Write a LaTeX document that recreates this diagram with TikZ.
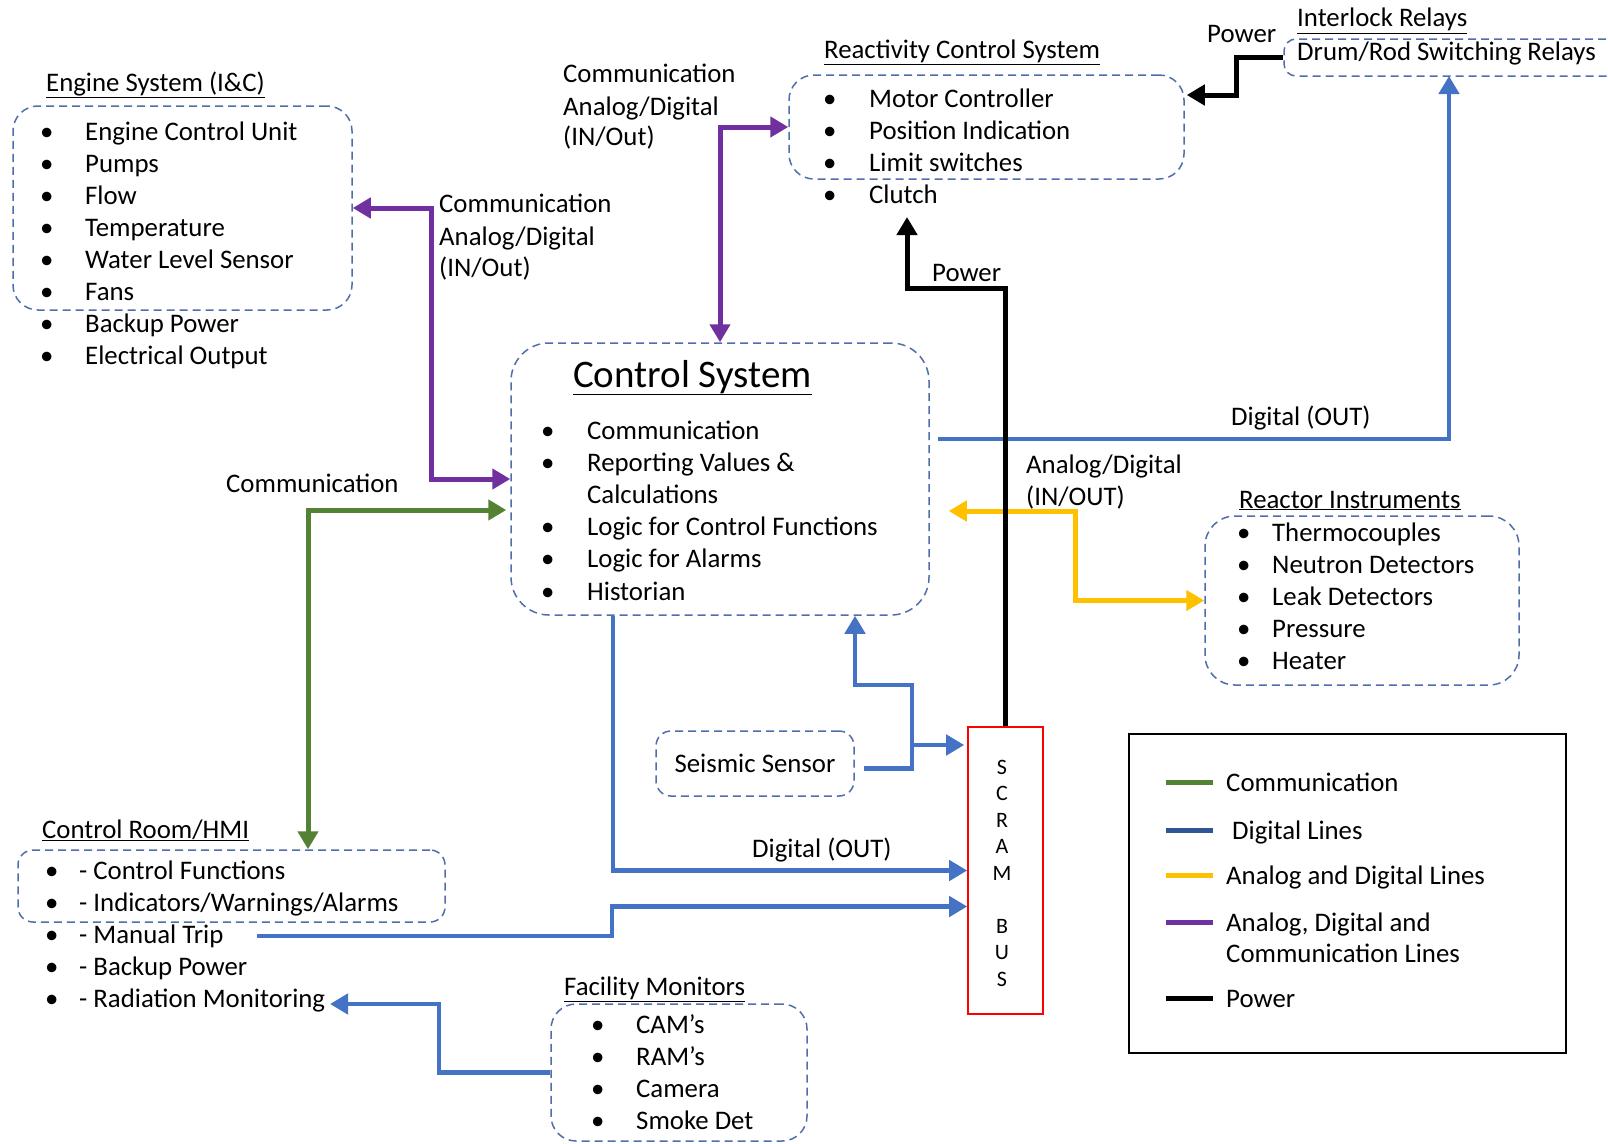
\documentclass[tikz,border=0pt]{standalone}
\usepackage{fontspec}
\setmainfont{Carlito}
\usetikzlibrary{arrows.meta,calc}
\definecolor{cgreen}{RGB}{84,130,53}
\definecolor{cblue}{RGB}{68,114,196}
\definecolor{cyellow}{RGB}{255,192,0}
\definecolor{cpurple}{RGB}{112,48,160}
\definecolor{dcol}{RGB}{80,110,170}
\definecolor{cdblue}{RGB}{47,85,151}
\newcommand\bul[2]{\makebox[#1pt][l]{•}#2}
\begin{document}
\begin{tikzpicture}[x=1pt,y=-1pt,
  txt/.style={inner sep=0pt,anchor=base west,font=\fontsize{26.8}{32}\selectfont},
  dbox/.style={draw=dcol,line width=1.5pt,dash pattern=on 8pt off 5pt,rounded corners=25pt,inner sep=0pt},
  tipa/.style={-{Triangle[length=18pt,width=20pt]}},
  tipb/.style={{Triangle[length=18pt,width=20pt]}-{Triangle[length=18pt,width=20pt]}},
  pl/.style={draw=cpurple,line width=5pt},
  bl/.style={draw=cblue,line width=4.5pt},
  yl/.style={draw=cyellow,line width=5pt},
  gl/.style={draw=cgreen,line width=5pt},
  pw/.style={draw=black,line width=5pt}]
\useasboundingbox (0,0) rectangle (1608,1143);
\fill[white] (0,0) rectangle (1608,1143);
\clip (0,0) rectangle (1608,1143);

% ---------- boxes ----------
\node[dbox,minimum width=339pt,minimum height=204pt] (eng) at (182.5,208) {};
\node[dbox,minimum width=395pt,minimum height=104pt] (rcs) at (986.5,127) {};
\node[dbox,minimum width=360pt,minimum height=37pt,rounded corners=12pt] (ilk) at (1464,57.5) {};
\node[dbox,minimum width=418pt,minimum height=272pt,rounded corners=38pt] (cs) at (720,479) {};
\node[dbox,minimum width=314pt,minimum height=169pt,rounded corners=30pt] (ri) at (1362,600.5) {};
\node[dbox,minimum width=198pt,minimum height=65pt,rounded corners=15pt,font=\fontsize{26.8}{32}\selectfont] (ss) at (755,763.5) {Seismic Sensor};
\node[draw=red,line width=1.6pt,minimum width=75pt,minimum height=287pt,inner sep=0pt] (scram) at (1005.5,870.5) {};
\node[dbox,minimum width=427pt,minimum height=72pt,rounded corners=15pt] (cr) at (231.5,886) {};
\node[dbox,minimum width=256pt,minimum height=137pt,rounded corners=25pt] (fm) at (679,1072.5) {};
\node[draw=black,line width=1.6pt,minimum width=437pt,minimum height=319pt,inner sep=0pt] (lg) at (1347.5,893.5) {};

% ---------- titles and lists ----------
\node[txt] (engt) at (46,91) {\underline{Engine System (I\&C)}};
\foreach \t [count=\i] in {Engine Control Unit,Pumps,Flow,Temperature,Water Level Sensor,Fans,Backup Power,Electrical Output}
  \node[txt] (eng\i) at (40,{140+32*(\i-1)}) {\bul{45}{\t}};

\node[txt] (rcst) at (824,58) {\underline{Reactivity Control System}};
\foreach \t [count=\i] in {Motor Controller,Position Indication,Limit switches,Clutch}
  \node[txt] (rcs\i) at (823,{107+32*(\i-1)}) {\bul{46}{\t}};

\node[txt] (ilkt) at (1297,27) {\underline{Interlock Relays}};
\node[txt] (ilk1) at (1297,60) {Drum/Rod Switching Relays};

\node[txt,font=\fontsize{39}{40}\selectfont] (cst) at (573,387) {\underline{Control System}};
\node[txt] (cs1) at (541,439) {\bul{46}{Communication}};
\node[txt] (cs2) at (541,471) {\bul{46}{Reporting Values \&}};
\node[txt] (cs3) at (587,503) {Calculations};
\node[txt] (cs4) at (541,535) {\bul{46}{Logic for Control Functions}};
\node[txt] (cs5) at (541,567) {\bul{46}{Logic for Alarms}};
\node[txt] (cs6) at (541,600) {\bul{46}{Historian}};

\node[txt] (rit) at (1239,508) {\underline{Reactor Instruments}};
\foreach \t [count=\i] in {Thermocouples,Neutron Detectors,Leak Detectors,Pressure,Heater}
  \node[txt] (ri\i) at (1237,{541+32*(\i-1)}) {\bul{35}{\t}};

\node[txt] (crt) at (42,838) {\underline{Control Room/HMI}};
\foreach \t [count=\i] in {- Control Functions,- Indicators/Warnings/Alarms,- Manual Trip,- Backup Power,- Radiation Monitoring}
  \node[txt] (cr\i) at (45,{879+32.2*(\i-1)}) {\bul{34}{\t}};

\node[txt] (fmt) at (564,995) {\underline{Facility Monitors}};
\foreach \t [count=\i] in {CAM’s,RAM’s,Camera,Smoke Det}
  \node[txt] (fm\i) at (591,{1033+32.3*(\i-1)}) {\bul{45}{\t}};

\foreach \c/\k in {S/0,C/1,R/2,A/3,M/4,B/6,U/7,S/8}
  \node[inner sep=0pt,font=\fontsize{22}{22}\selectfont] (sc\k) at (1002,{767+26.5*\k}) {\c};

% ---------- connector labels ----------
\node[txt] (lbp1) at (563,82) {Communication};
\node[txt] (lbp2) at (563,115) {Analog/Digital};
\node[txt] (lbp3) at (563,145) {(IN/Out)};
\node[txt] (lbe1) at (439,212) {Communication};
\node[txt] (lbe2) at (439,245) {Analog/Digital};
\node[txt] (lbe3) at (439,276) {(IN/Out)};
\node[txt] (lbpw1) at (1207,42) {Power};
\node[txt] (lbpw2) at (932,281) {Power};
\node[txt] (lbd1) at (1231,425) {Digital (OUT)};
\node[txt] (lba1) at (1026,473) {Analog/Digital};
\node[txt] (lba2) at (1026,505) {(IN/OUT)};
\node[txt] (lbg) at (226,492) {Communication};
\node[txt] (lbd2) at (752,857) {Digital (OUT)};

% ---------- free ends ----------
\coordinate (clutchin) at (907,217);
\coordinate (ilkin) at (1449,76);
\coordinate (mt) at (257,936);
\coordinate (rmtip) at (330,1004);

% ---------- connectors ----------
\draw[pl,tipb] (eng.east) -- (431,208) -- (431,479) -- (cs.west);
\draw[pl,tipb] (cs.north) -- (720,127) -- (rcs.west);
\draw[bl,tipa] ($(cs.east)+(8,-40)$) -- (1449,439) -- (ilkin);
\draw[yl,tipb] ($(cs.east)+(19,32)$) -- (1075,511) -- (1075,600.5) -- (ri.west);
\draw[gl,tipb] ($(cs.west)+(-4,31)$) -- (308,510) -- ($(cr.north)+(76.5,0)$);
\draw[bl,tipa] ($(ss.east)+(9,5)$) -- (912,768.5) -- (912,685) -- (855,685) -- ($(cs.south)+(135,0)$);
\draw[bl,tipa] (912,745) -- ($(scram.west)+(-3,-125.5)$);
\draw[bl,tipa] ($(cs.south)+(-107,0)$) -- (613,870.5) -- (scram.west);
\draw[bl,tipa] (mt) -- (612,936) -- (612,906.5) -- ($(scram.west)+(0,36)$);
\draw[bl,tipa] (fm.west) -- (439,1072.5) -- (439,1004) -- (rmtip);
\draw[pw,tipa] (ilk.west) -- (1236,57.5) -- (1236,95) -- ($(rcs.east)+(2,-32)$);
\draw[pw,tipa] (scram.north) -- (1005.5,288) -- (907,288) -- (clutchin);

% ---------- legend ----------
\draw[line width=5pt,cgreen] (1166,782) -- (1213,782);
\draw[line width=5pt,cdblue] (1166,830) -- (1213,830);
\draw[line width=5pt,cyellow] (1166,875) -- (1213,875);
\draw[line width=5pt,cpurple] (1166,922) -- (1213,922);
\draw[line width=5pt,black] (1166,998) -- (1213,998);
\node[txt] (lg1) at (1226,791) {Communication};
\node[txt] (lg2) at (1232,839) {Digital Lines};
\node[txt] (lg3) at (1226,884) {Analog and Digital Lines};
\node[txt] (lg4) at (1226,931) {Analog, Digital and};
\node[txt] (lg5) at (1226,962) {Communication Lines};
\node[txt] (lg6) at (1226,1007) {Power};
\end{tikzpicture}
\end{document}
